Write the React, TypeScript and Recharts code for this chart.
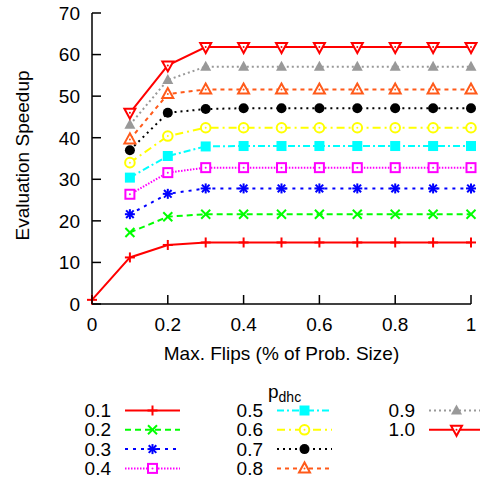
import React from 'react'
import { LineChart, Line, XAxis, YAxis, Label } from 'recharts'

// max flips, fraction of problem size
const flips = [0, 0.1, 0.2, 0.3, 0.4, 0.5, 0.6, 0.7, 0.8, 0.9, 1]

// evaluation speedup per p_dhc
const p01 = [1.0, 11.2, 14.2, 14.8, 14.8, 14.8, 14.8, 14.8, 14.8, 14.8, 14.8]
const p02 = [null, 17.2, 21.0, 21.6, 21.6, 21.6, 21.6, 21.6, 21.6, 21.6, 21.6]
const p03 = [null, 21.6, 26.5, 27.8, 27.8, 27.8, 27.8, 27.8, 27.8, 27.8, 27.8]
const p04 = [null, 26.4, 31.6, 32.8, 32.8, 32.8, 32.8, 32.8, 32.8, 32.8, 32.8]
const p05 = [null, 30.4, 35.6, 37.9, 38.0, 38.0, 38.0, 38.0, 38.0, 38.0, 38.0]
const p06 = [null, 34.0, 40.4, 42.4, 42.4, 42.4, 42.4, 42.4, 42.4, 42.4, 42.4]
const p07 = [null, 37.0, 46.0, 46.9, 47.1, 47.1, 47.1, 47.1, 47.1, 47.1, 47.1]
const p08 = [null, 39.6, 50.5, 51.6, 51.6, 51.6, 51.6, 51.6, 51.6, 51.6, 51.6]
const p09 = [null, 43.1, 53.9, 57.1, 57.1, 57.1, 57.1, 57.1, 57.1, 57.1, 57.1]
const p10 = [null, 46.0, 57.4, 61.8, 61.8, 61.8, 61.8, 61.8, 61.8, 61.8, 61.8]

const seriesNames = ['0.1', '0.2', '0.3', '0.4', '0.5', '0.6', '0.7', '0.8', '0.9', '1.0']
const seriesValues = [p01, p02, p03, p04, p05, p06, p07, p08, p09, p10]

const xTicks = [0, 0.2, 0.4, 0.6, 0.8, 1]
const xTickLabels = ['0', '0.2', '0.4', '0.6', '0.8', '1']
const yTicks = [0, 10, 20, 30, 40, 50, 60, 70]

const styles = [
  { color: '#ff0000', dash: undefined, marker: 'plus' },
  { color: '#00ff00', dash: '6 4', marker: 'cross' },
  { color: '#0000ff', dash: '3 5', marker: 'star' },
  { color: '#ff00ff', dash: '1.5 1.5', marker: 'boxDot' },
  { color: '#00ffff', dash: '7 3 2 3', marker: 'boxFill' },
  { color: '#ffff00', dash: '8 4 2 4', marker: 'circleDot' },
  { color: '#000000', dash: '2 4', marker: 'circleFill' },
  { color: '#ff5a1a', dash: '4 4', marker: 'triDot' },
  { color: '#999999', dash: '2 3', marker: 'triFill' },
  { color: '#ff0000', dash: undefined, marker: 'invTriDot' },
]

const data = flips.map((x, i) => {
  const row: any = { x }
  seriesValues.forEach((vals, k) => {
    row['s' + k] = vals[i]
  })
  return row
})

const FONT = '"Liberation Sans", Arial, sans-serif'
const TICK = 9
const AXIS_W = 1.5

function Marker({ shape, cx, cy, color }: { shape: string; cx: number; cy: number; color: string }) {
  const s = 5
  const dot = <circle cx={cx} cy={cy} r={1} fill={color} />
  switch (shape) {
    case 'plus':
      return (
        <g stroke={color} strokeWidth={2}>
          <line x1={cx - s} y1={cy} x2={cx + s} y2={cy} />
          <line x1={cx} y1={cy - s} x2={cx} y2={cy + s} />
        </g>
      )
    case 'cross':
      return (
        <g stroke={color} strokeWidth={2}>
          <line x1={cx - 4.5} y1={cy - 4.5} x2={cx + 4.5} y2={cy + 4.5} />
          <line x1={cx - 4.5} y1={cy + 4.5} x2={cx + 4.5} y2={cy - 4.5} />
        </g>
      )
    case 'star':
      return (
        <g stroke={color} strokeWidth={2}>
          <line x1={cx - s} y1={cy} x2={cx + s} y2={cy} />
          <line x1={cx} y1={cy - s} x2={cx} y2={cy + s} />
          <line x1={cx - 3.8} y1={cy - 3.8} x2={cx + 3.8} y2={cy + 3.8} />
          <line x1={cx - 3.8} y1={cy + 3.8} x2={cx + 3.8} y2={cy - 3.8} />
        </g>
      )
    case 'boxDot':
      return (
        <g>
          <rect x={cx - 4.5} y={cy - 4.5} width={9} height={9} fill="#fff" stroke={color} strokeWidth={2} />
          {dot}
        </g>
      )
    case 'boxFill':
      return <rect x={cx - 5} y={cy - 5} width={10} height={10} fill={color} />
    case 'circleDot':
      return (
        <g>
          <circle cx={cx} cy={cy} r={4.8} fill="#fff" stroke={color} strokeWidth={2} />
          {dot}
        </g>
      )
    case 'circleFill':
      return <circle cx={cx} cy={cy} r={5} fill={color} />
    case 'triDot':
      return (
        <g>
          <polygon
            points={`${cx},${cy - 6} ${cx - 5.5},${cy + 4} ${cx + 5.5},${cy + 4}`}
            fill="#fff"
            stroke={color}
            strokeWidth={2}
          />
          {dot}
        </g>
      )
    case 'triFill':
      return <polygon points={`${cx},${cy - 6} ${cx - 5.5},${cy + 4} ${cx + 5.5},${cy + 4}`} fill={color} />
    case 'invTriDot':
      return (
        <g>
          <polygon
            points={`${cx},${cy + 6} ${cx - 5.5},${cy - 4} ${cx + 5.5},${cy - 4}`}
            fill="#fff"
            stroke={color}
            strokeWidth={2}
          />
          {dot}
        </g>
      )
  }
  return null
}

const LeftTick = (p: any) => (
  <g>
    <line x1={p.x} y1={p.y} x2={p.x + TICK} y2={p.y} stroke="#000" strokeWidth={AXIS_W} />
    <text x={p.x - 12} y={p.y} dy="0.36em" textAnchor="end" fontSize={19} fontFamily={FONT} fill="#000">
      {p.payload.value}
    </text>
  </g>
)

const RightTick = (p: any) => (
  <line x1={p.x} y1={p.y} x2={p.x - TICK} y2={p.y} stroke="#000" strokeWidth={AXIS_W} />
)

const BottomTick = (p: any) => (
  <g>
    <line x1={p.x} y1={p.y} x2={p.x} y2={p.y - TICK} stroke="#000" strokeWidth={AXIS_W} />
    <text x={p.x} y={p.y + 27} textAnchor="middle" fontSize={19} fontFamily={FONT} fill="#000">
      {xTickLabels[xTicks.indexOf(p.payload.value)]}
    </text>
  </g>
)

const TopTick = (p: any) => (
  <line x1={p.x} y1={p.y} x2={p.x} y2={p.y + TICK} stroke="#000" strokeWidth={AXIS_W} />
)

const YTitle = (props: any) => {
  const vb = props.viewBox || { x: 0, y: 13, width: 92, height: 291 }
  const cx = vb.x + 28.5
  const cy = vb.y + vb.height / 2 - 3
  return (
    <text
      x={cx}
      y={cy}
      transform={`rotate(-90 ${cx} ${cy})`}
      textAnchor="middle"
      fontSize={19}
      fontFamily={FONT}
      fill="#000"
    >
      Evaluation Speedup
    </text>
  )
}

function KeyBlock() {
  return (
    <svg
      width={480}
      height={481}
      style={{ position: 'absolute', left: 0, top: 0, pointerEvents: 'none' }}
    >
      <text x={268} y={398} fontSize={19} fontFamily={FONT} fill="#000">
        p
        <tspan fontSize={14} dy={4}>
          dhc
        </tspan>
      </text>
      {seriesNames.map((name, k) => {
        const col = Math.floor(k / 4)
        const row = k % 4
        const base = 417 + row * 19.3
        const ly = base - 6.5
        const x0 = 125 + col * 152
        const st = styles[k]
        return (
          <g key={name}>
            <text x={111 + col * 152} y={base} textAnchor="end" fontSize={19} fontFamily={FONT} fill="#000">
              {name}
            </text>
            <line x1={x0} y1={ly} x2={x0 + 55} y2={ly} stroke={st.color} strokeWidth={2} strokeDasharray={st.dash} />
            <Marker shape={st.marker} cx={x0 + 27.5} cy={ly} color={st.color} />
          </g>
        )
      })}
    </svg>
  )
}

export default function App() {
  return (
    <div style={{ position: 'absolute', left: 0, top: 0, width: 480, height: 481, background: '#fff' }}>
      <LineChart
        width={480}
        height={481}
        data={data}
        margin={{ top: 13, right: 9, bottom: 117, left: 0 }}
        style={{ fontFamily: FONT }}
      >
        <XAxis
          dataKey="x"
          type="number"
          domain={[0, 1]}
          ticks={xTicks}
          interval={0}
          height={60}
          tickSize={0}
          tickMargin={0}
          tickLine={false}
          axisLine={{ stroke: '#000', strokeWidth: AXIS_W }}
          tick={<BottomTick />}
        >
          <Label
            value="Max. Flips (% of Prob. Size)"
            position="insideBottom"
            offset={4}
            fontSize={19}
            fontFamily={FONT}
            fill="#000"
          />
        </XAxis>
        <XAxis
          xAxisId="top"
          orientation="top"
          type="number"
          domain={[0, 1]}
          ticks={xTicks}
          interval={0}
          height={0}
          tickSize={0}
          tickMargin={0}
          tickLine={false}
          axisLine={{ stroke: '#000', strokeWidth: AXIS_W }}
          tick={<TopTick />}
        />
        <YAxis
          type="number"
          domain={[0, 70]}
          ticks={yTicks}
          interval={0}
          width={92}
          tickSize={0}
          tickMargin={0}
          tickLine={false}
          axisLine={{ stroke: '#000', strokeWidth: AXIS_W }}
          tick={<LeftTick />}
        >
          <Label content={<YTitle />} />
        </YAxis>
        <YAxis
          yAxisId="right"
          orientation="right"
          type="number"
          domain={[0, 70]}
          ticks={yTicks}
          interval={0}
          width={0}
          tickSize={0}
          tickMargin={0}
          tickLine={false}
          axisLine={{ stroke: '#000', strokeWidth: AXIS_W }}
          tick={<RightTick />}
        />
        {seriesNames.map((name, k) => {
          const st = styles[k]
          return (
            <Line
              key={name}
              dataKey={'s' + k}
              name={name}
              stroke={st.color}
              strokeWidth={2}
              strokeDasharray={st.dash}
              isAnimationActive={false}
              dot={(p: any) =>
                p.value == null || p.cy == null ? (
                  <g key={`d${k}-${p.index}`} />
                ) : (
                  <Marker key={`d${k}-${p.index}`} shape={st.marker} cx={p.cx} cy={p.cy} color={st.color} />
                )
              }
              activeDot={false}
            />
          )
        })}
      </LineChart>
      <KeyBlock />
    </div>
  )
}
